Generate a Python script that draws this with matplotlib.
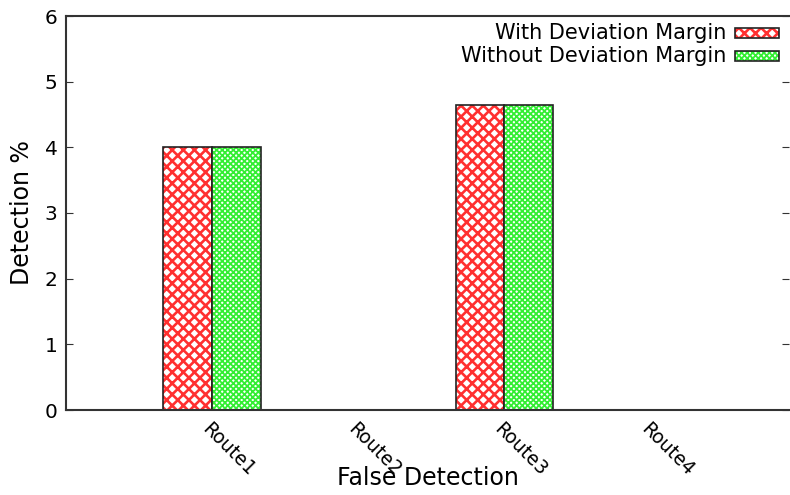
import matplotlib
matplotlib.use("Agg")
import matplotlib.pyplot as plt
import numpy as np
from matplotlib.patches import Rectangle

categories = ["Route1", "Route2", "Route3", "Route4"]
with_margin = [4.0, 0.0, 4.65, 0.0]
without_margin = [4.0, 0.0, 4.65, 0.0]
series_names = ["With Deviation Margin", "Without Deviation Margin"]
yticks = [0, 1, 2, 3, 4, 5, 6]

plt.rcParams['font.family'] = ['DejaVu Sans']

fig = plt.figure(figsize=(7.9, 4.95), dpi=100)
ax = fig.add_axes([66/790, 1 - 410/495, (789-66)/790, (410-16)/495])

x = np.arange(len(categories))
w = 0.333
RED = '#ff3030'
GREEN = '#33ee33'

def draw(xs, vals, color, hatch, hlw):
    plt.rcParams['hatch.linewidth'] = hlw
    ax.bar(xs, vals, w, align='edge', facecolor='white', edgecolor=color, hatch=hatch, linewidth=0)
    ax.bar(xs, vals, w, align='edge', fill=False, edgecolor='#222222', linewidth=1.2)

draw(x - w, with_margin, RED, 'xxx', 1.9)
draw(x, without_margin, GREEN, 'xxxxxx', 1.3)

ax.set_xlim(-1, 3.95)
ax.set_ylim(0, 6)
ax.set_yticks(yticks)
ax.set_yticklabels([str(v) for v in yticks], fontsize=14.5)
ax.tick_params(axis='y', direction='in', length=5, right=True, pad=6, color='#333333')
ax.set_xticks(x)
ax.set_xticklabels(categories, rotation=-45, ha='left', va='top', rotation_mode='anchor', fontsize=13.5)
ax.tick_params(axis='x', length=0, pad=7)

for s in ax.spines.values():
    s.set_linewidth(1.5)
    s.set_color('#333333')
ax.spines['right'].set_visible(False)

ax.set_ylabel("Detection %", fontsize=17, labelpad=8)
ax.set_xlabel("False Detection", fontsize=17, labelpad=-10)

# legend
items = [(RED, 'xxx', 1.9), (GREEN, 'xxxxxx', 1.3)]
ys = [33, 56]
for (color, hatch, hlw), name, yp in zip(items, series_names, ys):
    yc = 1 - (yp - 16) / (410 - 16)
    x0 = (735 - 66) / (789 - 66)
    x1 = (779 - 66) / (789 - 66)
    hh = 10 / 394
    plt.rcParams['hatch.linewidth'] = hlw
    ax.add_patch(Rectangle((x0, yc - hh/2), x1 - x0, hh, transform=ax.transAxes, facecolor='white',
                           edgecolor=color, hatch=hatch, linewidth=0, clip_on=False))
    ax.add_patch(Rectangle((x0, yc - hh/2), x1 - x0, hh, transform=ax.transAxes, fill=False,
                           edgecolor='#222222', linewidth=1.2, clip_on=False))
    ax.text((726 - 66) / (789 - 66), yc, name, transform=ax.transAxes, ha='right', va='center', fontsize=15)

fig.savefig("out.png", dpi=100)
